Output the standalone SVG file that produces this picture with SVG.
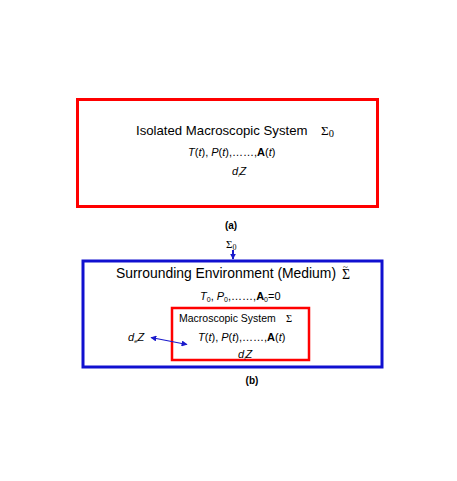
<svg xmlns="http://www.w3.org/2000/svg" width="457" height="481" viewBox="0 0 457 481">
<defs>
<style>
text{font-family:"Liberation Sans",Arial,sans-serif;fill:#000;}
.t{font-size:11px;}
.big{font-size:13.2px;}
.bigb{font-size:13.9px;}
.sm{font-size:10.5px;}
.lab{font-size:10px;font-weight:bold;}
.sym{font-family:"Liberation Serif","DejaVu Serif",serif;}
.i{font-style:italic;}
.b{font-weight:bold;}
.red{fill:none;stroke:#ff0000;}
.blue{fill:none;stroke:#1010d0;}
</style>
<marker id="ah" viewBox="0 0 10 10" refX="9" refY="5" markerWidth="6" markerHeight="6" orient="auto-start-reverse" markerUnits="userSpaceOnUse">
<path d="M0,0L10,5L0,10z" fill="#1a1acc"/>
</marker>
</defs>
<rect width="457" height="481" fill="#fff"/>
<g id="isolated-system">
<rect class="red" x="77.5" y="99.5" width="300" height="107" stroke-width="3"/>
<text class="big" x="136" y="135">Isolated Macroscopic System</text>
<text class="big sym" x="321" y="135">Σ<tspan class="sm" dy="2">0</tspan></text>
<text class="t" x="188" y="156"><tspan class="i">T</tspan>(<tspan class="i">t</tspan>), <tspan class="i">P</tspan>(<tspan class="i">t</tspan>),……,<tspan class="b">A</tspan>(<tspan class="i">t</tspan>)</text>
<text class="t i" x="232" y="175">d<tspan font-size="6" dy="2">i</tspan><tspan dy="-2">Z</tspan></text>
</g>
<text class="lab" x="231" y="229" text-anchor="middle">(a)</text>
<g id="sigma0">
<text class="t sym" x="226" y="248">Σ<tspan font-size="8" dy="2">0</tspan></text>
</g>
<g id="environment">
<rect class="blue" x="83" y="261" width="299" height="106" stroke-width="3"/>
<text class="bigb" x="116" y="278">Surrounding Environment (Medium)</text>
<text class="bigb sym" x="342" y="279">Σ<tspan font-size="9" dx="-7" dy="-9">~</tspan></text>
<text class="t" x="200" y="300"><tspan class="i">T</tspan><tspan font-size="7" dy="2">0</tspan><tspan dy="-2">, </tspan><tspan class="i">P</tspan><tspan font-size="7" dy="2">0</tspan><tspan dy="-2">,……,</tspan><tspan class="b">A</tspan><tspan font-size="7" dy="2">0</tspan><tspan dy="-2">=0</tspan></text>
</g>
<g id="macroscopic-system">
<rect class="red" x="172" y="308" width="137" height="52" stroke-width="2.5"/>
<text class="sm" x="179" y="322">Macroscopic System</text>
<text class="sm sym" x="286" y="322">Σ</text>
<text class="t" x="198" y="341"><tspan class="i">T</tspan>(<tspan class="i">t</tspan>), <tspan class="i">P</tspan>(<tspan class="i">t</tspan>),……,<tspan class="b">A</tspan>(<tspan class="i">t</tspan>)</text>
<text class="t i" x="238" y="358">d<tspan font-size="6" dy="2">i</tspan><tspan dy="-2">Z</tspan></text>
</g>
<g id="de-z">
<text class="t i" x="128" y="341">d<tspan font-size="6" dy="2">e</tspan><tspan dy="-2">Z</tspan></text>
</g>
<text class="lab" x="252" y="384" text-anchor="middle">(b)</text>
<g id="connectors" stroke="#1a1acc" fill="none">
<line x1="233" y1="250" x2="233" y2="259" stroke-width="2" marker-end="url(#ah)"/>
<line x1="151" y1="337.5" x2="187" y2="344.5" stroke-width="1.2" marker-start="url(#ah)" marker-end="url(#ah)"/>
</g>
</svg>
